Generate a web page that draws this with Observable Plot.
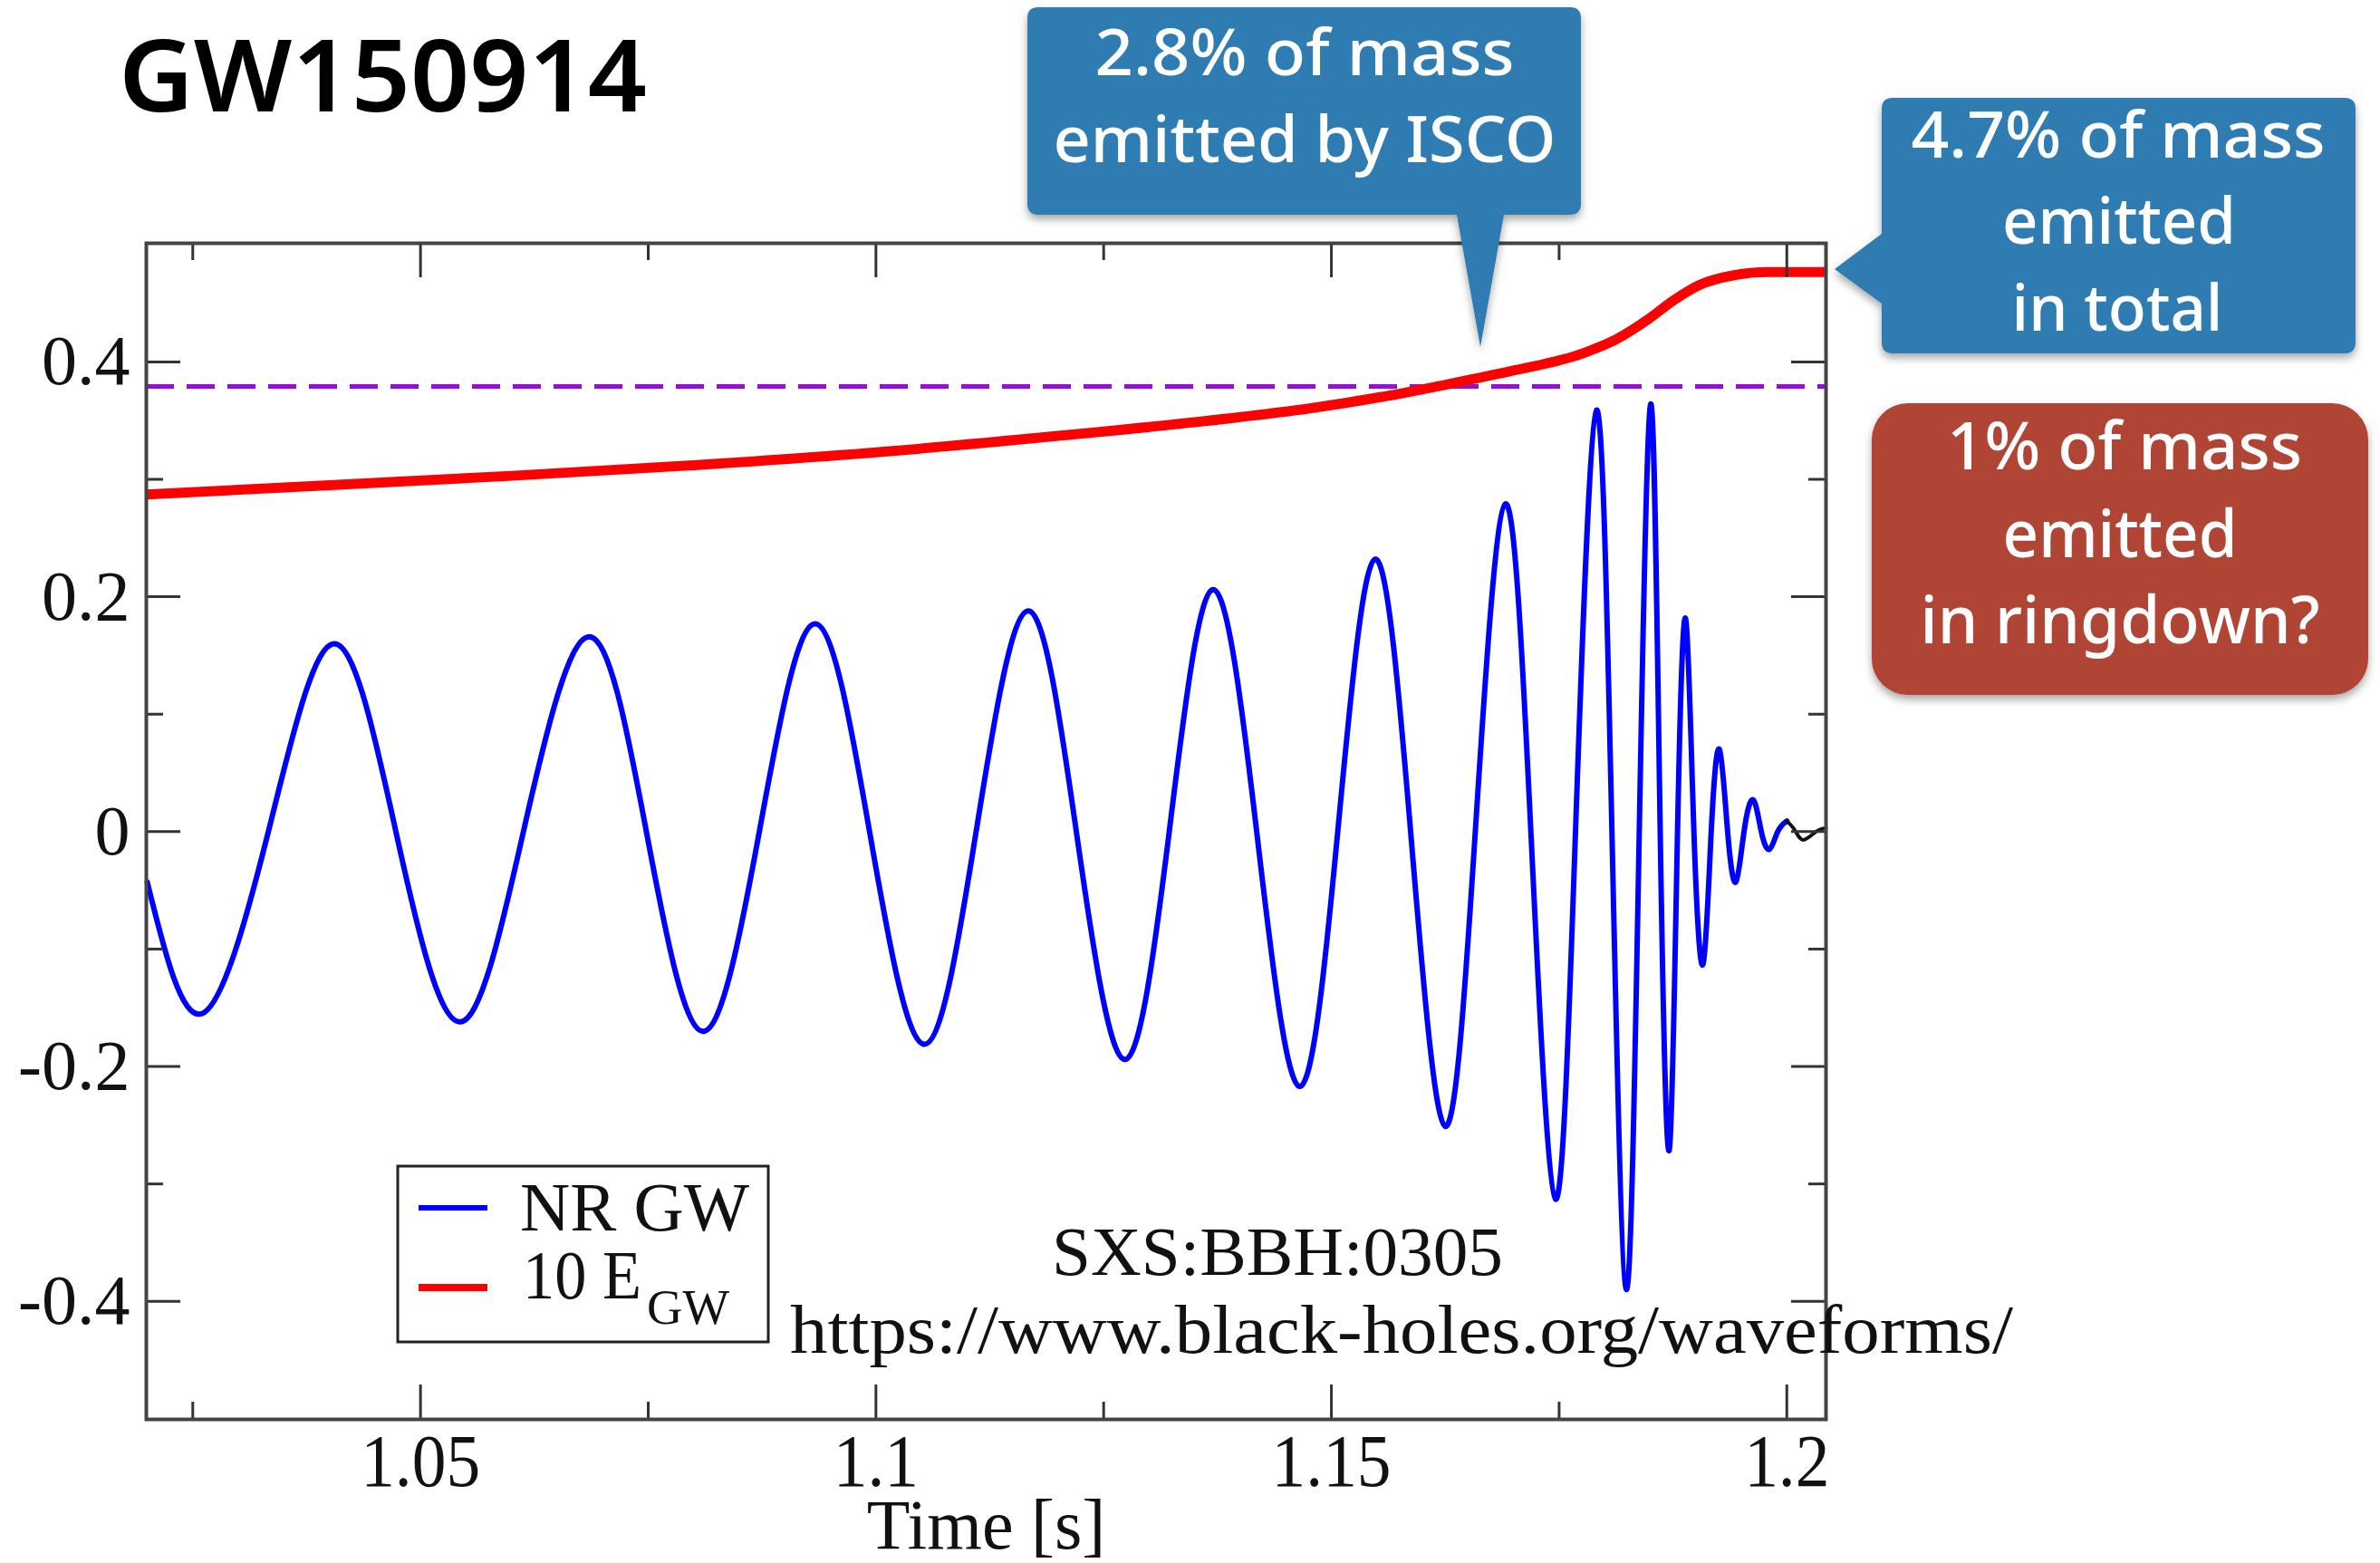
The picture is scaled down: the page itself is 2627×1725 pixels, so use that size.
<!DOCTYPE html>
<html>
<head>
<meta charset="utf-8">
<script src="https://cdn.jsdelivr.net/npm/d3@7"></script>
<script src="https://cdn.jsdelivr.net/npm/@observablehq/plot@0.6"></script>
<style>
html, body { margin: 0; padding: 0; background: #fff; overflow: hidden; }
#wrap { position: relative; width: 2627px; height: 1725px; background: #fff; }
#wrap > svg { position: absolute; left: 0; top: 0; }
</style>
</head>
<body>
<div id="wrap"></div>
<script>
// ---- Data ----
// NR GW strain (blue): extrema and zero crossings
const gwTime = [1.0200,1.0260,1.0333,1.0405,1.0473,1.0543,1.0613,1.0685,1.0748,1.0810,
  1.0872,1.0933,1.0993,1.1053,1.1110,1.1167,1.1220,1.1273,1.1322,1.1370,
  1.1418,1.1465,1.1507,1.1548,1.1587,1.1625,1.1658,1.1691,1.1719,1.1746,
  1.1768,1.1791,1.1808,1.1824,1.1838,1.1851,1.1861,1.1871,1.1880,1.1889,
  1.1898,1.1908,1.1917,1.1926,1.1935,1.1944,1.1953,1.1963,1.1972,1.1981,
  1.1990,1.2000];
const gwStrain = [-0.043,-0.155,0,0.160,0,-0.162,0,0.166,0,-0.170,
  0,0.177,0,-0.181,0,0.188,0,-0.194,0,0.206,
  0,-0.217,0,0.232,0,-0.251,0,0.279,0,-0.313,
  0,0.359,0,-0.390,0,0.364,0,-0.271,0,0.181,
  0,-0.113,0,0.070,0,-0.043,0,0.027,0,-0.015,
  0,0.009];
// late tail drawn in black
const tailTime = [1.2000,1.2009,1.2018,1.2032,1.2043];
const tailStrain = [0.009,0.001,-0.007,0.000,0.003];
// 10 E_GW (red)
const egwTime = [1.0199,1.0400,1.0600,1.0800,1.1000,1.1200,1.1400,1.1481,1.1554,1.1628,
  1.1702,1.1775,1.1812,1.1849,1.1875,1.1904,1.1942,1.1978,1.2043];
const egwValue = [0.287,0.295,0.303,0.312,0.323,0.337,0.353,0.361,0.370,0.381,
  0.393,0.407,0.419,0.437,0.452,0.4655,0.4738,0.4765,0.4765];
// ISCO level (purple dashed)
const iscoLevel = 0.379;
// ticks
const xMajorTicks = [1.05, 1.1, 1.15, 1.2];
const xMinorTicks = [1.025, 1.075, 1.125, 1.175];
const yMajorTicks = [-0.4, -0.2, 0, 0.2, 0.4];
const yMinorTicks = [-0.3, -0.1, 0.1, 0.3];
const xDomain = [1.0199, 1.2043];
const yDomain = [-0.5005, 0.501];

const gw = gwTime.map((t, i) => ({t, v: gwStrain[i]}));
const tail = tailTime.map((t, i) => ({t, v: tailStrain[i]}));
const egw = egwTime.map((t, i) => ({t, v: egwValue[i]}));

// ---- Layout ----
const W = 2627, H = 1725;
const mL = 161, mR = 612, mT = 268, mB = 159;
const frameH = H - mT - mB, frameW = W - mL - mR;
const majorLen = 38, minorLen = 19;
const tk = {stroke: "#333", strokeWidth: 3};

const chart = Plot.plot({
  width: W, height: H,
  marginLeft: mL, marginRight: mR, marginTop: mT, marginBottom: mB,
  x: {domain: xDomain, axis: null},
  y: {domain: yDomain, axis: null},
  style: {fontFamily: "'Liberation Serif', 'Times New Roman', serif", background: "transparent", overflow: "visible"},
  marks: [
    Plot.ruleY([iscoLevel], {y: d => d, stroke: "#9410D6", strokeWidth: 5, strokeDasharray: "31,14"}),
    Plot.line(egw, {x: "t", y: "v", stroke: "#ff0000", strokeWidth: 11, curve: "monotone-x", strokeLinecap: "butt"}),
    Plot.line(gw, {x: "t", y: "v", stroke: "#0000ff", strokeWidth: 6, curve: "natural"}),
    Plot.line(tail, {x: "t", y: "v", stroke: "#111", strokeWidth: 4, curve: "natural"}),
    // bottom ticks
    Plot.ruleX(xMajorTicks, {x: d => d, insetTop: frameH - majorLen, ...tk}),
    Plot.ruleX(xMinorTicks, {x: d => d, insetTop: frameH - minorLen, ...tk}),
    // top ticks
    Plot.ruleX(xMajorTicks, {x: d => d, insetBottom: frameH - majorLen, ...tk}),
    Plot.ruleX(xMinorTicks, {x: d => d, insetBottom: frameH - minorLen, ...tk}),
    // left ticks
    Plot.ruleY(yMajorTicks, {y: d => d, insetRight: frameW - majorLen, ...tk}),
    Plot.ruleY(yMinorTicks, {y: d => d, insetRight: frameW - minorLen, ...tk}),
    // right ticks
    Plot.ruleY(yMajorTicks, {y: d => d, insetLeft: frameW - majorLen, ...tk}),
    Plot.ruleY(yMinorTicks, {y: d => d, insetLeft: frameW - minorLen, ...tk}),
    Plot.frame({stroke: "#444", strokeWidth: 4}),
    // tick labels
    Plot.text(xMajorTicks, {x: d => d, text: d => String(d), frameAnchor: "bottom", lineAnchor: "top", dy: 15, fontSize: 82, fill: "#111"}),
    Plot.text(yMajorTicks, {y: d => d, text: d => String(d), frameAnchor: "left", textAnchor: "end", lineAnchor: "middle", dx: -18, fontSize: 78, fill: "#111"}),
    Plot.text(["Time [s]"], {text: d => d, frameAnchor: "bottom", lineAnchor: "middle", dy: 118, fontSize: 78, fill: "#111"})
  ]
});

const wrap = document.getElementById("wrap");
wrap.appendChild(chart);

// condense x tick labels (the original face is narrower)
const xLabelSet = new Set(xMajorTicks.map(String));
chart.querySelectorAll("text").forEach(t => {
  if (xLabelSet.has(t.textContent)) {
    const w = t.getComputedTextLength();
    t.setAttribute("textLength", (w * 0.92).toFixed(1));
    t.setAttribute("lengthAdjust", "spacingAndGlyphs");
  }
});

// ---- Annotations overlay ----
const sans = "'Noto Sans', 'Open Sans', sans-serif";
const serif = "'Liberation Serif', 'Times New Roman', serif";
function txt(x, y, s, size, family, weight, fill, len, anchor) {
  return `<text x="${x}" y="${y}" font-family="${family}" font-size="${size}" font-weight="${weight}" fill="${fill}" text-anchor="${anchor}"` +
    (len ? ` textLength="${len}" lengthAdjust="spacingAndGlyphs"` : "") + `>${s}</text>`;
}
const blue = "#2E7BB1", red = "#B04435";
const ov = document.createElementNS("http://www.w3.org/2000/svg", "svg");
ov.setAttribute("width", W);
ov.setAttribute("height", H);
ov.setAttribute("viewBox", `0 0 ${W} ${H}`);
ov.innerHTML = `
<defs>
  <filter id="sh" x="-10%" y="-10%" width="120%" height="130%">
    <feDropShadow dx="0" dy="5" stdDeviation="5" flood-color="#000" flood-opacity="0.35"/>
  </filter>
</defs>
${txt(131, 123, "GW150914", 111, sans, 600, "#000", 583, "start")}
<path filter="url(#sh)" fill="${blue}" d="M1146 8 H1733 Q1745 8 1745 20 V225 Q1745 237 1733 237 H1660 L1634 383 L1608 237 H1146 Q1134 237 1134 225 V20 Q1134 8 1146 8 Z"/>
${txt(1440, 83, "2.8% of mass", 70, sans, 500, "#fff", 463, "middle")}
${txt(1440, 179, "emitted by ISCO", 70, sans, 500, "#fff", 555, "middle")}
<path filter="url(#sh)" fill="${blue}" d="M2089 108 H2588 Q2600 108 2600 120 V378 Q2600 390 2588 390 H2089 Q2077 390 2077 378 V335 L2025 297 L2077 258 V120 Q2077 108 2089 108 Z"/>
${txt(2338, 174, "4.7% of mass", 70, sans, 500, "#fff", 457, "middle")}
${txt(2339, 269, "emitted", 70, sans, 500, "#fff", 258, "middle")}
${txt(2337, 365, "in total", 70, sans, 500, "#fff", 233, "middle")}
<rect filter="url(#sh)" fill="${red}" x="2066" y="445" width="548" height="322" rx="40" ry="40"/>
${txt(2345, 518, "1% of mass", 72, sans, 500, "#fff", 392, "middle")}
${txt(2340, 615, "emitted", 72, sans, 500, "#fff", 259, "middle")}
${txt(2340, 710, "in ringdown?", 72, sans, 500, "#fff", 441, "middle")}
<rect x="439" y="1287" width="409" height="194" fill="#fff" stroke="#222" stroke-width="3"/>
<line x1="462" x2="538" y1="1333" y2="1333" stroke="#0000ff" stroke-width="6"/>
<line x1="462" x2="538" y1="1421" y2="1421" stroke="#ff0000" stroke-width="8"/>
${txt(574, 1358, "NR GW", 76, serif, 400, "#111", 253, "start")}
${txt(577, 1433, "10 E", 76, serif, 400, "#111", 131, "start")}
${txt(714, 1461, "GW", 54, serif, 400, "#111", 91, "start")}
${txt(1161, 1407, "SXS:BBH:0305", 76, serif, 400, "#111", 498, "start")}
${txt(872, 1493, "https://www.black-holes.org/waveforms/", 76, serif, 400, "#111", 1350, "start")}
`;
wrap.appendChild(ov);
</script>
</body>
</html>
